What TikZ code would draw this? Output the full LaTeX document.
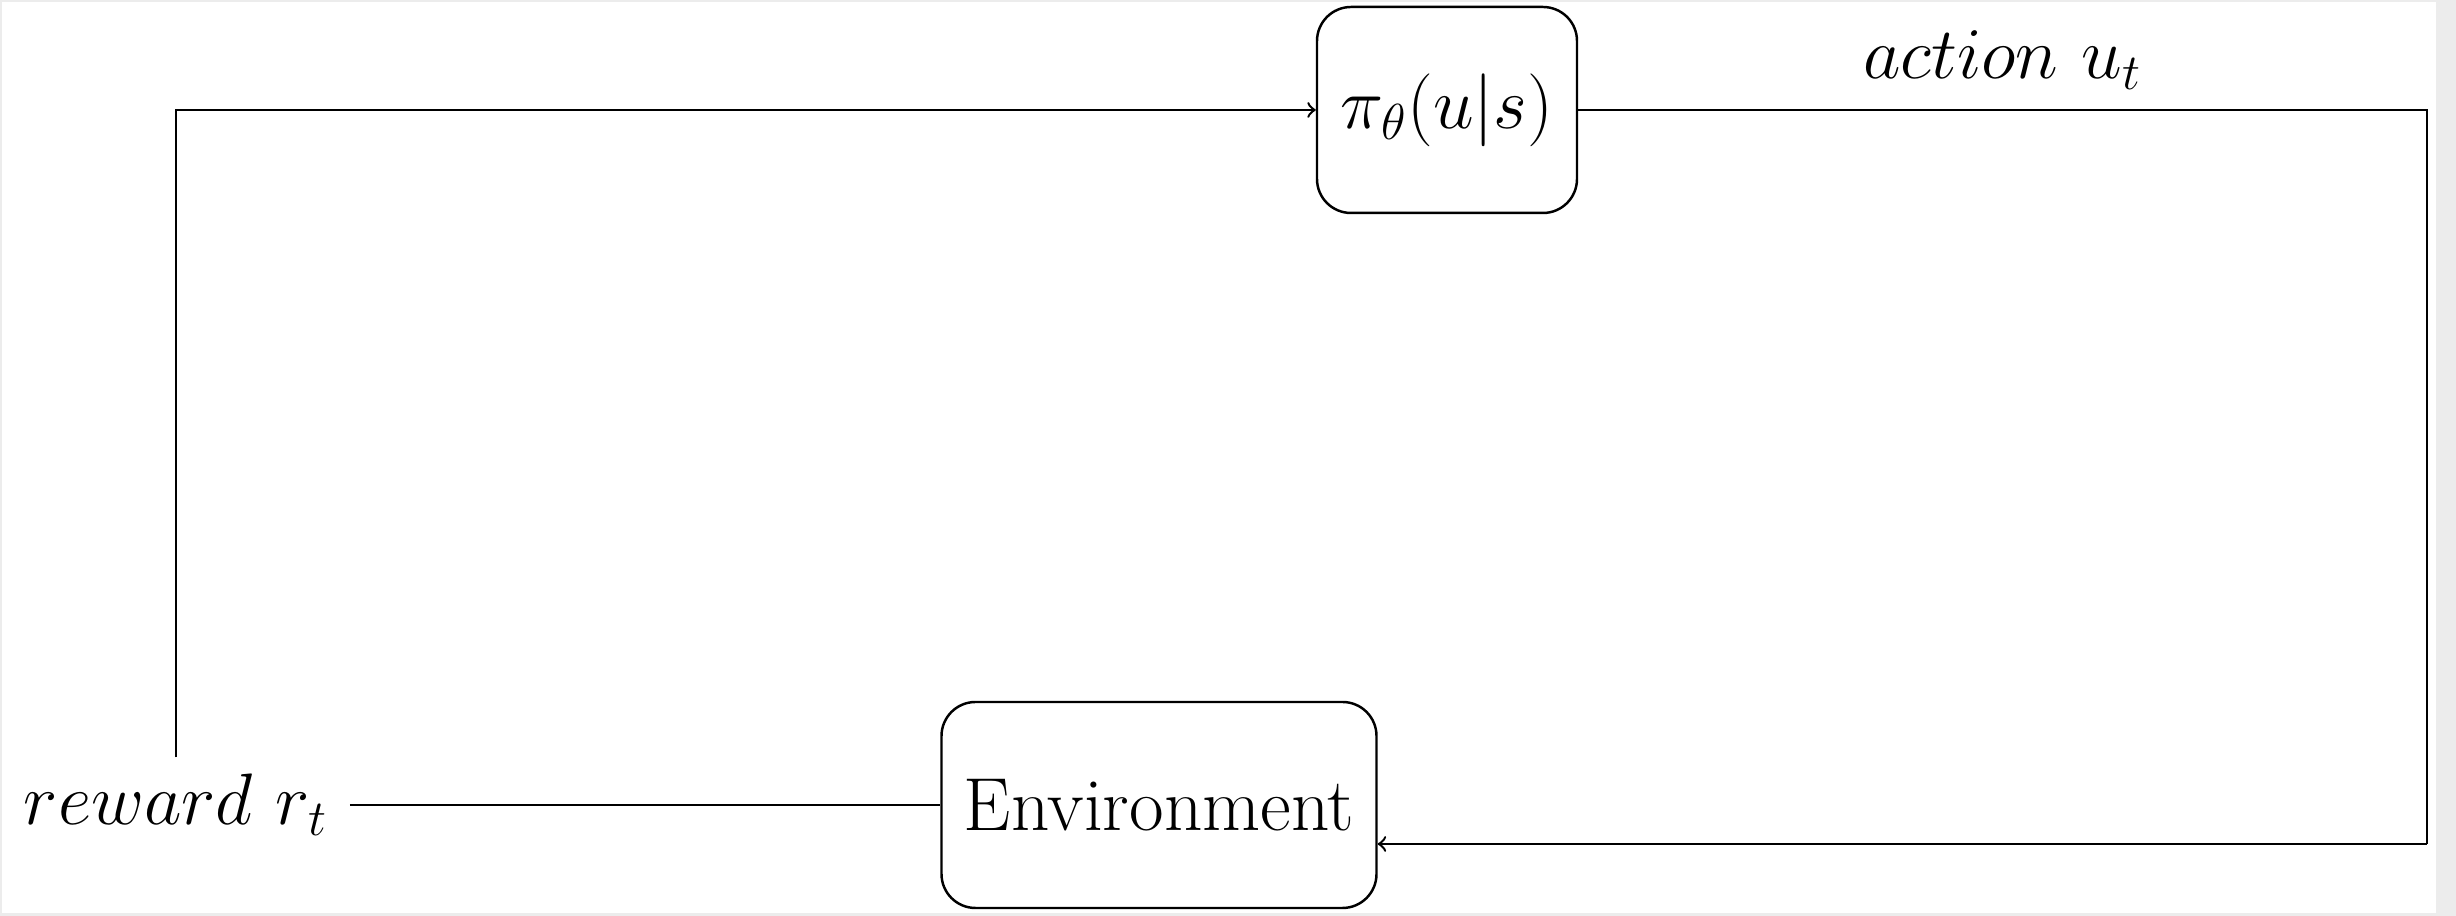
\documentclass[tikz,border=0pt]{standalone}
\usetikzlibrary{positioning}
\tikzset{
  block/.style={draw, rounded corners=0.34cm, line width=0.7pt, minimum height=2.06cm, inner xsep=0.1cm},
  wire/.style={line width=0.7pt}
}
\begin{document}
\begin{tikzpicture}[font=\fontsize{22pt}{26pt}\selectfont]
\fill[gray!15] (0,0) rectangle (24.56,9.16);
\fill[white] (0.02,0.03) rectangle (24.36,9.14);
\useasboundingbox (0,0) rectangle (24.56,9.16);
\node[block, minimum width=2.60cm] (policy) at (14.47,8.06) {$\pi_\theta(u|s)$};
\node[block, minimum width=4.35cm, font=\fontsize{21.4pt}{26pt}\selectfont] (env) at (11.59,1.11) {Environment};
\node[outer xsep=0.1cm, outer ysep=0.05cm] (reward) at (1.76,1.11) {$reward\ r_t$};
\coordinate (turn) at (24.27,0.72);
\draw[wire, ->] (reward.north) |- (policy.west);
\draw[wire] (policy.east) -- node[above, yshift=0.08cm] (action) {$action\ u_t$} (policy.east -| turn) -- (turn);
\draw[wire, ->] (turn) -- (turn -| env.east);
\draw[wire] (reward.east) -- (env.west);
\end{tikzpicture}
\end{document}
